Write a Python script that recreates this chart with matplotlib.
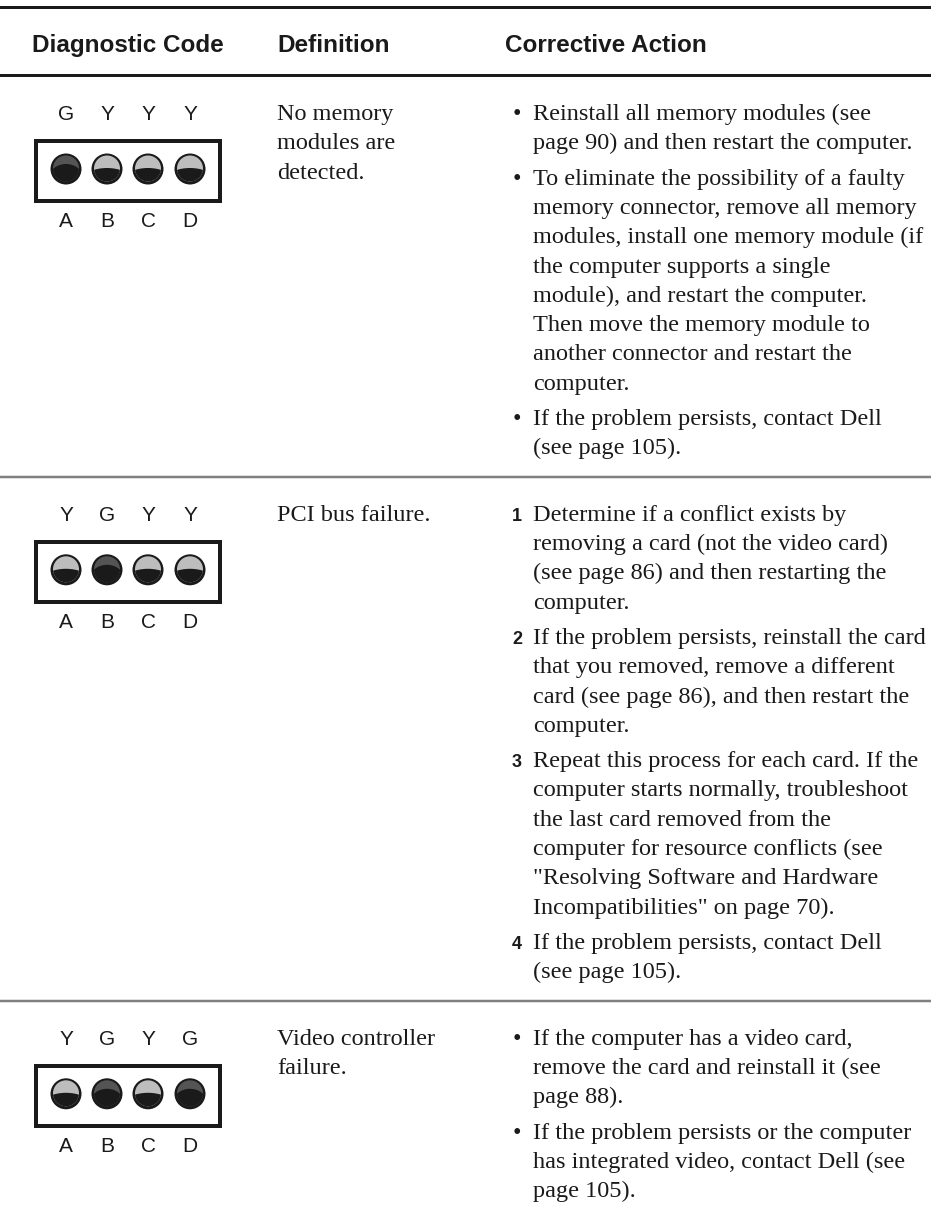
import matplotlib
matplotlib.use("Agg")
import matplotlib.pyplot as plt
from matplotlib.patches import Circle, Ellipse, Rectangle

# Table content
headers = ["Diagnostic Code", "Definition", "Corrective Action"]
led_names = ["A", "B", "C", "D"]
codes = ["GYYY", "YGYY", "YGYG"]
definitions = [
    ["No memory", "modules are", "detected."],
    ["PCI bus failure."],
    ["Video controller", "failure."],
]
list_styles = ["bullet", "number", "bullet"]
actions = [
    [
        ["Reinstall all memory modules (see",
         "page 90) and then restart the computer."],
        ["To eliminate the possibility of a faulty",
         "memory connector, remove all memory",
         "modules, install one memory module (if",
         "the computer supports a single",
         "module), and restart the computer.",
         "Then move the memory module to",
         "another connector and restart the",
         "computer."],
        ["If the problem persists, contact Dell",
         "(see page 105)."],
    ],
    [
        ["Determine if a conflict exists by",
         "removing a card (not the video card)",
         "(see page 86) and then restarting the",
         "computer."],
        ["If the problem persists, reinstall the card",
         "that you removed, remove a different",
         "card (see page 86), and then restart the",
         "computer."],
        ["Repeat this process for each card. If the",
         "computer starts normally, troubleshoot",
         "the last card removed from the",
         "computer for resource conflicts (see",
         "\"Resolving Software and Hardware",
         "Incompatibilities\" on page 70)."],
        ["If the problem persists, contact Dell",
         "(see page 105)."],
    ],
    [
        ["If the computer has a video card,",
         "remove the card and reinstall it (see",
         "page 88)."],
        ["If the problem persists or the computer",
         "has integrated video, contact Dell (see",
         "page 105)."],
    ],
]

# Colours and fonts
INK = "#1a1a1a"
LIGHT = "#bdbdbd"   # Y
DARKLED = "#545454"  # G
RULE_GRAY = "#808080"
SERIF = ["Liberation Serif", "DejaVu Serif"]
SANS = ["Liberation Sans", "DejaVu Sans"]
NARROW = ["Liberation Sans Narrow", "Liberation Sans", "DejaVu Sans"]

W, H = 931, 1209
fig = plt.figure(figsize=(W / 100, H / 100), dpi=100)
ax = fig.add_axes([0, 0, 1, 1])
ax.set_xlim(0, W)
ax.set_ylim(H, 0)
ax.axis("off")

px = 0.72  # pixels -> points at 100 dpi

# Layout (pixels)
COL_X = [128, 277, 505]
LED_X = [66, 107, 148, 190]
BOX_X0, BOX_X1 = 36, 220
TEXT_X = 533
MARK_X = 517
LINE = 29.3
ITEM_GAP = 6
BODY_SIZE = 17.5
first_top = 112

# Header
ax.axhline(7, color=INK, lw=3 * px)
ax.axhline(75, color=INK, lw=3 * px)
ax.text(COL_X[0], 52, headers[0], ha="center", va="baseline",
        family=SANS, weight="bold", size=17.5, color=INK)
for x, h in zip(COL_X[1:], headers[1:]):
    ax.text(x, 52, h, ha="left", va="baseline",
            family=SANS, weight="bold", size=17.5, color=INK)


def draw_led(cx, cy, state):
    ax.add_patch(Circle((cx, cy), 15.5, fc=INK, ec="none"))
    inner = Circle((cx, cy - 0.5), 13, fc=LIGHT if state == "Y" else DARKLED, ec="none")
    ax.add_patch(inner)
    if state == "Y":
        shade = Ellipse((cx, cy + 10), 46, 22, fc=INK, ec="none")
    else:
        shade = Ellipse((cx, cy + 8), 33, 26, fc=INK, ec="none")
    ax.add_patch(shade)
    shade.set_clip_path(inner)


top = first_top
for r, code in enumerate(codes):
    # LED diagram
    for x, c, name in zip(LED_X, code, led_names):
        ax.text(x, top + 8, c, ha="center", va="baseline",
                family=NARROW, size=15, color=INK)
        ax.text(x, top + 115, name, ha="center", va="baseline",
                family=NARROW, size=15, color=INK)
        draw_led(x, top + 57, c)
    ax.add_patch(Rectangle((BOX_X0, top + 29), BOX_X1 - BOX_X0, 60,
                           fc="none", ec=INK, lw=4 * px))

    # Definition
    for i, line in enumerate(definitions[r]):
        ax.text(COL_X[1], top + 8 + i * LINE, line, ha="left", va="baseline",
                family=SERIF, size=BODY_SIZE, color=INK)

    # Corrective action
    y = top
    for k, item in enumerate(actions[r]):
        if list_styles[r] == "bullet":
            ax.text(MARK_X, y + 8, "\u2022", ha="center", va="baseline",
                    family=SERIF, size=BODY_SIZE, color=INK)
        else:
            ax.text(MARK_X, y + 8, str(k + 1), ha="center", va="baseline",
                    family=SANS, weight="bold", size=13, color=INK)
        for i, line in enumerate(item):
            ax.text(TEXT_X, y + 8, line, ha="left", va="baseline",
                    family=SERIF, size=BODY_SIZE, color=INK)
            y += LINE
        y += ITEM_GAP
    last = y - LINE - ITEM_GAP
    if r < len(codes) - 1:
        sep = last + 30.5
        ax.axhline(sep, color=RULE_GRAY, lw=2.5 * px)
        top = sep + 36

fig.savefig("out.png", dpi=100, facecolor="white")
